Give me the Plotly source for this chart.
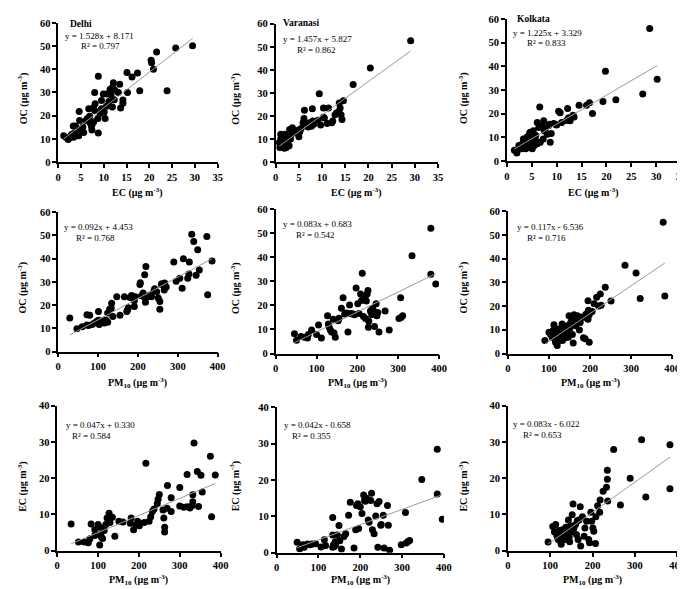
import plotly.graph_objects as go
import numpy as np

# ---------------- data ----------------
# Row 1: OC vs EC
delhi_ec = [1.2,1.7,2.2,2.7,3.3,3.8,3.5,4.1,3.4,4.5,2.9,4.8,4.7,4.6,5.4,5.6,6.1,6.4,7.0,6.9,6.7,7.3,7.4,7.5,7.8,8.0,7.7,8.1,8.0,8.8,8.8,8.7,9.2,9.5,9.5,9.9,10.3,10.1,10.6,10.6,11.1,11.4,11.6,11.9,12.1,11.9,12.3,12.4,13.2,13.5,13.7,14.2,14.2,15.1,15.2,16.2,17.4,17.9,20.4,20.5,20.9,21.6,23.9,25.8,29.5]
delhi_oc = [11.4,10.7,9.8,10.7,15.6,15.6,12.6,12.1,10.7,11.4,11.9,14.0,17.9,21.8,15.1,12.8,17.9,18.8,17.0,19.8,23.0,15.3,13.9,16.5,17.4,22.2,23.4,25.1,30.0,37.0,12.6,18.8,20.9,23.0,26.5,29.3,18.8,21.6,24.1,29.3,26.1,31.4,28.9,32.1,34.2,23.7,26.9,31.1,30.0,33.5,23.3,26.8,25.4,38.6,30.0,36.7,38.4,30.7,43.9,42.8,40.0,47.4,30.7,49.1,50.1]

varanasi_ec = [1.1,1.1,1.3,0.9,1.6,1.6,2.0,2.0,2.3,2.3,2.7,2.9,3.2,3.0,3.6,3.4,4.5,4.9,5.2,5.0,5.5,5.9,6.1,6.6,7.0,7.3,7.7,7.9,8.0,8.2,9.1,9.4,9.7,10.3,10.5,10.3,11.1,11.4,12.1,12.3,12.8,13.1,13.6,13.7,13.9,14.1,14.3,14.6,16.7,20.4,29.1,0.8,1.4,1.8,2.5,1.9,2.6,1.2,6.2]
varanasi_oc = [12.1,10.0,7.8,6.4,8.5,10.7,12.1,7.1,8.5,6.4,9.2,7.1,10.0,14.2,14.9,12.1,12.8,13.9,13.2,11.0,14.6,17.1,18.9,16.8,15.2,17.1,15.6,23.2,17.8,16.4,18.2,29.7,16.1,19.5,19.2,23.5,16.8,23.5,17.1,17.8,20.6,21.3,22.0,25.6,23.5,20.6,18.5,26.6,33.7,40.8,52.6,8.5,9.0,11.0,7.5,6.0,9.8,11.5,22.5]

kolkata_ec = [1.5,2.0,2.2,2.4,2.8,3.1,3.4,3.4,3.8,4.0,4.1,4.3,4.4,4.6,4.8,4.9,5.1,5.3,5.3,5.5,5.8,6.1,6.4,6.6,6.7,7.1,7.3,7.5,7.7,8.1,8.4,8.6,8.7,9.4,9.7,10.4,10.7,11.0,12.0,12.4,12.2,12.7,13.3,13.5,14.5,16.0,16.6,17.2,19.3,21.9,19.8,27.3,28.7,30.2,4.4,3.8,5.1,5.4,3.3,4.6,6.1,4.1,3.1,5.7,7.4,8.9,10.0]
kolkata_oc = [4.6,3.4,4.8,6.6,5.7,7.3,6.2,8.0,8.7,10.1,7.6,9.4,10.8,8.0,6.6,9.0,10.3,7.6,12.8,6.6,10.8,16.3,14.2,22.8,8.0,14.9,9.4,12.8,13.5,11.4,14.9,15.6,8.0,15.9,15.6,21.1,20.4,16.3,17.2,18.3,22.2,17.0,19.4,18.6,23.6,23.6,24.6,20.1,25.2,25.9,37.9,28.3,56.0,34.5,6.6,5.2,5.2,8.0,9.4,12.1,7.3,5.9,5.2,9.0,17.0,11.7,15.3]

# Row 2: OC vs PM10
delhi_pm_b = [29,47,60,72,72,79,76,85,91,97,101,101,103,110,114,116,120,124,124,129,133,134,137,147,155,166,172,174,176,180,184,191,193,191,205,206,209,213,217,217,220,219,226,230,234,240,242,247,251,255,255,259,260,266,271,267,290,296,305,311,314,325,328,329,335,340,346,350,354,373,375,386]
delhi_oc_b = [14.4,9.8,10.7,11.4,15.8,15.6,11.2,11.6,12.3,13.0,13.5,17.3,11.6,12.6,13.5,12.3,13.5,12.6,16.6,18.2,18.7,20.8,15.1,23.6,15.6,23.6,17.3,17.9,18.9,23.3,24.1,21.9,23.6,19.4,28.9,29.6,24.0,25.2,23.3,33.1,36.6,21.2,23.6,24.3,23.6,26.1,27.0,25.7,23.1,18.2,21.5,28.9,29.2,26.5,27.8,29.5,38.6,30.3,31.6,27.3,40.0,31.6,33.4,38.6,50.5,47.4,32.9,43.8,35.1,49.5,24.5,39.0]

varanasi_pm_b = [46,51,62,70,78,80,88,100,105,112,127,129,131,134,137,141,143,146,153,155,161,165,169,173,177,179,181,185,189,193,197,201,204,208,210,212,215,219,220,222,224,226,227,228,232,235,236,238,242,246,248,250,253,268,278,302,306,307,311,334,380,380,392]
varanasi_oc_b = [8.2,5.5,7.1,6.8,6.5,7.9,9.8,7.9,11.9,6.5,15.7,12.3,10.9,9.8,8.9,14.3,8.5,6.8,13.6,14.7,18.8,23.2,16.4,16.9,8.9,16.6,20.2,16.6,16.4,16.1,27.3,20.7,16.6,24.8,22.1,33.4,15.4,23.2,14.6,21.8,24.8,26.2,10.9,13.4,17.7,16.1,18.4,18.7,11.2,20.7,15.7,17.1,8.9,17.7,9.8,14.6,23.2,15.0,15.7,40.7,52.1,33.0,28.9]

kolkata_pm_b = [90,100,104,108,110,112,114,116,118,120,120,122,124,125,128,129,132,133,135,137,140,141,144,145,147,149,151,153,155,157,159,161,163,165,169,173,174,176,180,188,190,184,188,195,196,195,198,198,205,210,216,221,225,227,237,251,285,312,322,378,382]
kolkata_oc_b = [5.5,9.0,8.0,6.9,9.7,12.1,6.2,4.8,8.3,7.2,3.4,10.3,5.5,8.6,6.9,9.7,12.4,5.5,11.0,8.0,6.6,9.9,9.0,11.7,6.9,15.9,10.8,13.1,14.9,8.0,4.4,16.3,13.5,11.7,15.9,14.9,9.9,13.1,15.4,15.2,16.6,6.6,6.2,14.5,18.2,22.3,16.3,4.8,17.7,21.0,23.7,20.0,25.1,20.4,27.9,22.1,37.2,34.0,23.2,55.4,24.3]

# Row 3: EC vs PM10
delhi_pm_c = [34,52,66,76,80,83,92,92,100,103,104,106,111,115,119,122,127,129,135,141,151,161,179,181,187,193,197,201,203,213,217,225,229,233,237,245,247,250,259,261,263,263,269,270,279,279,300,300,310,318,325,330,332,332,318,335,343,346,352,355,375,378,387,108,113]
delhi_ec_c = [7.4,2.4,2.4,2.2,3.3,7.4,5.8,4.2,7.2,6.5,1.6,4.5,3.4,5.6,7.2,9.0,10.3,7.8,9.2,4.0,8.1,7.9,7.6,9.0,5.8,7.2,8.1,6.9,7.5,7.8,24.1,8.1,9.4,10.8,11.5,13.0,14.2,15.5,11.2,9.0,6.5,5.2,11.7,18.0,14.6,10.8,17.4,12.3,12.0,12.1,11.8,12.4,13.5,15.4,21.0,29.7,21.8,12.2,20.8,16.2,26.0,9.4,20.9,3.8,6.2]

varanasi_pm_c = [49,55,63,66,74,80,85,93,106,114,117,134,134,136,138,141,145,149,151,155,161,165,172,176,185,189,191,194,196,200,204,208,210,212,215,219,221,225,227,229,233,237,240,242,245,249,250,255,257,265,267,270,298,308,310,314,318,347,384,384,396,134,140]
varanasi_ec_c = [2.9,1.1,2.2,1.5,2.4,2.2,2.4,2.5,1.6,3.6,2.0,9.7,4.9,2.2,1.7,2.1,4.9,7.5,3.3,1.0,4.5,5.2,10.3,13.9,1.3,6.3,13.0,13.5,6.7,12.6,10.8,15.9,14.4,14.2,15.0,9.0,8.4,14.4,16.4,6.3,5.2,10.1,13.5,1.5,14.1,7.6,7.8,10.3,1.3,13.0,7.6,0.7,2.2,11.1,2.7,3.1,3.4,20.2,28.5,16.2,9.2,1.5,3.0]

kolkata_pm_c = [95,106,110,113,116,117,119,121,123,125,126,127,129,131,132,135,137,139,141,143,145,146,148,151,152,154,156,160,162,164,166,168,171,172,176,180,182,186,191,193,196,198,201,203,207,208,212,217,218,225,235,235,233,236,250,266,289,316,326,383,383]
kolkata_ec_c = [2.4,6.7,5.2,7.2,4.0,4.5,3.1,5.6,3.8,2.5,1.8,4.5,5.8,3.6,4.9,3.1,6.5,4.5,5.6,8.5,3.8,2.5,6.9,5.2,9.9,12.9,6.3,7.2,4.5,8.3,3.1,8.5,12.1,1.3,9.4,4.0,6.3,8.1,3.1,2.2,10.6,8.1,6.3,5.4,2.0,9.4,12.4,10.6,14.0,16.4,22.2,19.7,17.5,13.7,27.9,12.6,20.0,30.6,14.8,29.2,17.1]

# regression equations printed on the panels
slopes = [1.528, 1.457, 1.225, 0.092, 0.083, 0.117, 0.047, 0.042, 0.083]
intercepts = [8.171, 5.827, 3.329, 4.453, 0.683, -6.536, 0.330, -0.658, -6.022]
r2_values = [0.797, 0.862, 0.833, 0.768, 0.542, 0.716, 0.584, 0.355, 0.653]
cities = ["Delhi", "Varanasi", "Kolkata"]

xs = [delhi_ec, varanasi_ec, kolkata_ec, delhi_pm_b, varanasi_pm_b, kolkata_pm_b, delhi_pm_c, varanasi_pm_c, kolkata_pm_c]
ys = [delhi_oc, varanasi_oc, kolkata_oc, delhi_oc_b, varanasi_oc_b, kolkata_oc_b, delhi_ec_c, varanasi_ec_c, kolkata_ec_c]

# ---------------- layout ----------------
W, H = 685, 589
# plot boxes in pixels: left, right, top, bottom
boxes = [(48, 210, 10, 152), (269, 434, 11, 152), (504, 681, 6, 151),
         (48, 210, 203, 345), (269, 435, 200, 347), (505, 672, 202, 347),
         (47, 213, 400, 548), (270, 440, 402, 550), (505, 677, 400, 548)]
xranges = [[0, 35]] * 3 + [[0, 400]] * 6
xdticks = [5] * 3 + [100] * 6
yranges = [[0, 60]] * 6 + [[0, 40]] * 3
ec_t = "EC (µg m<sup>-3</sup>)"
oc_t = "OC (µg m<sup>-3</sup>)"
pm_t = "PM<sub>10</sub> (µg m<sup>-3</sup>)"
xtitles = [ec_t] * 3 + [pm_t] * 6
ytitles = [oc_t] * 6 + [ec_t] * 3

# text positions (pixels)
eq_pos = [(90, 23), (311, 27), (545, 20), (89, 218), (312, 215), (548, 218), (91, 420), (312, 420), (544, 419)]
r2_pos = [(91, 34), (310, 38), (544, 31), (86, 229), (309, 226), (544, 229), (82, 431), (305, 431), (540, 430)]
city_pos = [(58, 11), (274, 10), (512, 6)]
xtitle_y = [183, 183, 183, 377, 377, 377, 578, 578, 578]
ytitle_x = [12, 228, 460]
ytitle_y = [87, 280, 482]

FONT = "Liberation Serif"
fig = go.Figure()
annotations = []

def px(x):
    return x / W

def py(y):
    return 1 - y / H

for i in range(9):
    s = "" if i == 0 else str(i + 1)
    L, R, T, B = boxes[i]
    fig.add_trace(go.Scatter(x=xs[i], y=ys[i], mode="markers",
                             marker=dict(color="black", size=7),
                             xaxis="x" + s, yaxis="y" + s, showlegend=False))
    xl = np.array([min(xs[i]), max(xs[i])], dtype=float)
    fig.add_trace(go.Scatter(x=xl, y=slopes[i] * xl + intercepts[i], mode="lines",
                             line=dict(color="#9a9a9a", width=1),
                             xaxis="x" + s, yaxis="y" + s, showlegend=False))
    common = dict(showline=True, linecolor="black", linewidth=1.5, ticks="outside",
                  ticklen=4, tickwidth=1.5, tickcolor="black", showgrid=False, zeroline=False,
                  tickfont=dict(family=FONT, size=10.5, color="black", weight="bold"))
    fig.update_layout(**{
        "xaxis" + s: dict(domain=[px(L), px(R)], range=xranges[i], dtick=xdticks[i],
                          anchor="y" + s, **common),
        "yaxis" + s: dict(domain=[py(B), py(T)], range=yranges[i], dtick=10,
                          anchor="x" + s, **common),
    })
    sign = "+" if intercepts[i] >= 0 else "-"
    eq = f"y = {slopes[i]:.3f}x {sign} {abs(intercepts[i]):.3f}"
    annotations.append(dict(text=eq, x=px(eq_pos[i][0]), y=py(eq_pos[i][1]), xref="paper", yref="paper",
                            showarrow=False, xanchor="center", yanchor="middle",
                            font=dict(family=FONT, size=9, color="black")))
    annotations.append(dict(text=f"R² = {r2_values[i]:.3f}", x=px(r2_pos[i][0]), y=py(r2_pos[i][1]),
                            xref="paper", yref="paper", showarrow=False, xanchor="center", yanchor="middle",
                            font=dict(family=FONT, size=9, color="black")))
    annotations.append(dict(text=xtitles[i], x=px((L + R) / 2), y=py(xtitle_y[i]), xref="paper", yref="paper",
                            showarrow=False, xanchor="center", yanchor="middle",
                            font=dict(family=FONT, size=10, color="black", weight="bold")))
    annotations.append(dict(text=ytitles[i], x=px(ytitle_x[i % 3]), y=py(ytitle_y[i // 3]), xref="paper",
                            yref="paper", showarrow=False, xanchor="center", yanchor="middle", textangle=-90,
                            font=dict(family=FONT, size=10, color="black", weight="bold")))

for c, name in enumerate(cities):
    annotations.append(dict(text=name, x=px(city_pos[c][0]), y=py(city_pos[c][1]), xref="paper", yref="paper",
                            showarrow=False, xanchor="left", yanchor="middle",
                            font=dict(family=FONT, size=9.5, color="black", weight="bold")))

fig.update_layout(width=W, height=H, autosize=False, margin=dict(l=0, r=0, t=0, b=0),
                  paper_bgcolor="white", plot_bgcolor="white", annotations=annotations)
fig.write_html("out.html")
